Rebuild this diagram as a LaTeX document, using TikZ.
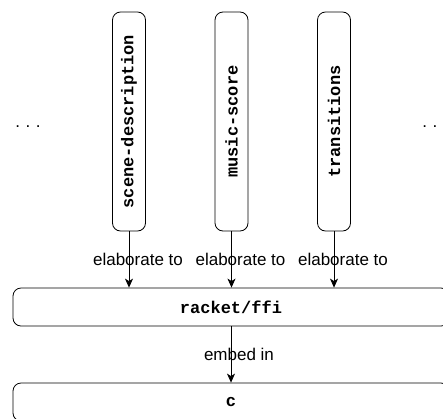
\documentclass[tikz,border=0pt]{standalone}
\usepackage{fontspec}
\setmainfont{Liberation Sans}
\newfontfamily\codefont{Liberation Mono}
\usetikzlibrary{arrows.meta}
\usetikzlibrary{positioning}

\tikzset{
  langbox/.style={draw, thick, rounded corners=8pt, inner sep=0pt,
    font=\codefont\fontsize{17}{20}\selectfont\bfseries},
  vbox/.style={langbox, rotate=90, minimum width=219pt, minimum height=33pt},
  hbox/.style={langbox, minimum width=436pt, minimum height=38pt},
  flow/.style={thick, -{Stealth[length=9pt,width=8pt,inset=2.5pt]}},
  lbl/.style={font=\fontsize{17}{20}\selectfont, inner sep=0pt}
}

\begin{document}
\begin{tikzpicture}[x=1pt, y=-1pt]
    \useasboundingbox (0,0) rectangle (443,418);
    \clip (0,0) rectangle (443,418);
    \node[vbox] (scene) at (129,121.5) {scene-description};
    \node[vbox] (music) at (231.5,121.5) {music-score};
    \node[vbox] (trans) at (334,121.5) {transitions};
    \node[hbox] (ffi) at (231,307) {racket/ffi};
    \node[hbox] (clang) at (231,402) {c};
    \node[lbl, anchor=base] (ldots) at (28,127) {.\hspace{5.6pt}.\hspace{5.6pt}.};
    \node[lbl, anchor=base] (rdots) at (435,127) {.\hspace{5.6pt}.\hspace{5.6pt}.};
    \draw[flow] (scene.west) -- (scene.west |- ffi.north)
        node[lbl, midway, xshift=9pt] {elaborate to};
    \draw[flow] (music.west) -- (music.west |- ffi.north)
        node[lbl, midway, xshift=9pt] {elaborate to};
    \draw[flow] (trans.west) -- (trans.west |- ffi.north)
        node[lbl, midway, xshift=9pt] {elaborate to};
    \draw[flow] (ffi.south) -- (clang.north)
        node[lbl, midway, xshift=8pt] {embed in};
\end{tikzpicture}
\end{document}
